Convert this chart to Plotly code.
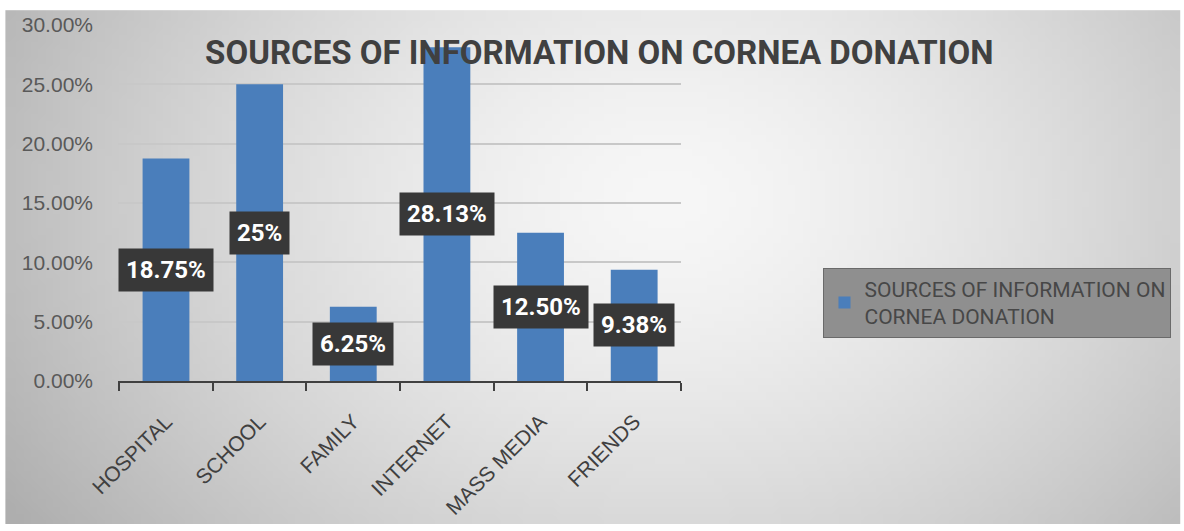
import base64, struct, zlib
import numpy as np
import plotly.graph_objects as go

categories = ["HOSPITAL", "SCHOOL", "FAMILY", "INTERNET", "MASS MEDIA", "FRIENDS"]
values = [0.1875, 0.25, 0.0625, 0.2813, 0.125, 0.0938]
value_labels = ["18.75%", "25%", "6.25%", "28.13%", "12.50%", "9.38%"]
series_name = "SOURCES OF INFORMATION ON CORNEA DONATION"
y_ticks = [0, 0.05, 0.10, 0.15, 0.20, 0.25, 0.30]

W, H = 1184, 531
L, R, T, B = 118, 1184 - 683, 25, 531 - 386


def gradient_png(w, h):
    yy, xx = np.mgrid[0:h, 0:w]
    cx, cy = w * 0.56, h * 0.36
    d = np.sqrt(((xx - cx) / (w * 0.55)) ** 2 + ((yy - cy) / (h * 0.95)) ** 2)
    v = 247 - 55 * np.clip(d, 0, 1.2) ** 1.5
    v = np.clip(v, 0, 255).astype(np.uint8)
    raw = b"".join(b"\x00" + bytes(np.repeat(row, 3)) for row in v)
    def chunk(t, d):
        c = struct.pack(">I", len(d)) + t + d
        return c + struct.pack(">I", zlib.crc32(t + d) & 0xffffffff)
    png = b"\x89PNG\r\n\x1a\n" + chunk(b"IHDR", struct.pack(">IIBBBBB", w, h, 8, 2, 0, 0, 0))
    png += chunk(b"IDAT", zlib.compress(raw)) + chunk(b"IEND", b"")
    return "data:image/png;base64," + base64.b64encode(png).decode()


pw, ph = W - L - R, H - T - B
def sx(px):  # screen px -> paper x
    return (px - L) / pw
def sy(py):  # screen px -> paper y
    return (H - B - py) / ph

fig = go.Figure()
fig.add_trace(go.Bar(
    x=categories, y=values, name=series_name.replace("ON CORNEA", "ON<br>CORNEA"),
    marker=dict(color="#4A7EBB", line=dict(width=0)), showlegend=True,
))

for c, v, t in zip(categories, values, value_labels):
    fig.add_annotation(
        x=c, y=v / 2, text="<b>%s</b>" % t, showarrow=False,
        font=dict(family="Roboto, sans-serif", size=24, color="white"),
        bgcolor="#383838", borderpad=7, xanchor="center", yanchor="middle",
    )

fig.add_layout_image(dict(
    source=gradient_png(160, 72), xref="paper", yref="paper",
    x=sx(5), y=sy(10), sizex=sx(W) - sx(5),
    sizey=sy(10) - sy(H), sizing="stretch", layer="below",
    xanchor="left", yanchor="top",
))

fig.update_layout(
    width=W, height=H,
    margin=dict(l=L, r=R, t=T, b=B),
    paper_bgcolor="white", plot_bgcolor="rgba(0,0,0,0)",
    bargap=0.5,
    title=dict(text="<b>" + series_name + "</b>", x=sx(601), xref="paper",
               xanchor="center", y=1 - 52 / H, yanchor="middle",
               font=dict(family="Roboto, sans-serif", size=33, color="#404040")),
    legend=dict(x=sx(826), y=sy(271), xanchor="left", yanchor="top",
                bgcolor="#8f8f8f", bordercolor="#6a6a6a", borderwidth=1,
                font=dict(family="Roboto, sans-serif", size=21, color="#474747"),
                itemsizing="constant", tracegroupgap=0),
    xaxis=dict(showgrid=False, showline=True, linecolor="#404040", linewidth=2,
               ticks="outside", tickson="boundaries", ticklen=8, tickwidth=2, tickcolor="#404040",
               tickangle=-45, ticklabelstandoff=18,
               tickfont=dict(family="Liberation Sans, Arial, sans-serif", size=21, color="#404040")),
    yaxis=dict(range=[0, 0.30], tickvals=y_ticks, tickformat=".2%", showgrid=True,
               gridcolor="#c8c8c8", gridwidth=2, zeroline=False, showline=False,
               ticklabelstandoff=24,
               tickfont=dict(family="Liberation Sans, Arial, sans-serif", size=21, color="#595959")),
)

fig.write_html(
    "out.html",
    config={"displayModeBar": False},
    post_script="document.body.style.margin='0';document.body.style.overflow='hidden';",
)
